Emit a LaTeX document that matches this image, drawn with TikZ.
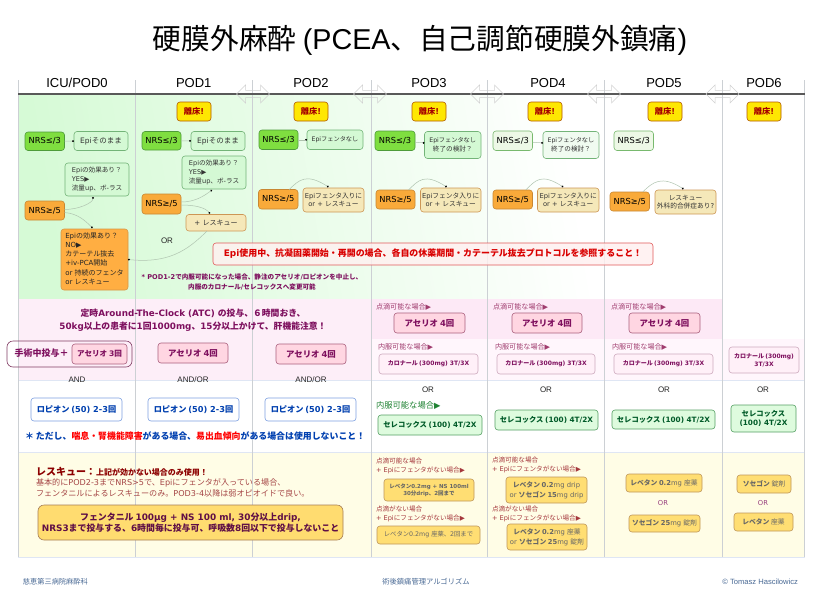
\documentclass[tikz,border=0pt]{standalone}
\usepackage{fontspec}
\usetikzlibrary{arrows.meta,shapes.arrows}
\setmainfont{DejaVu Sans}
\newfontfamily\latn{DejaVu Sans}
\newfontfamily\libf{Liberation Sans}
\newfontfamily\cjk{Noto Sans CJK JP}
\makeatletter
\def\setcjkrange#1#2{\@tempcnta=#1\relax\loop\ifnum\@tempcnta<#2\relax\XeTeXcharclass\@tempcnta=10\relax\advance\@tempcnta by 1\repeat}
\setcjkrange{"3000}{"30FF}
\setcjkrange{"4E00}{"9FFF}
\setcjkrange{"FF00}{"FFEF}
\makeatother
\XeTeXinterchartoks 0 10 = {\cjk}
\XeTeXinterchartoks 10 0 = {\latn}
\XeTeXinterchartoks 4095 10 = {\cjk}
\XeTeXinterchartoks 4095 0 = {\latn}
\XeTeXinterchartokenstate=1
\definecolor{gridc}{HTML}{CCD0D4}
\definecolor{hline}{HTML}{DFE6F4}
\definecolor{grn}{HTML}{D6FAD6}
\definecolor{pinkA}{HTML}{FDEEF8}
\definecolor{pinkB}{HTML}{FDE9F6}
\definecolor{pinkC}{HTML}{FFF6FC}
\definecolor{yel}{HTML}{FFFDE6}
\definecolor{purp}{HTML}{7E0F5E}
\definecolor{foot}{HTML}{4A6A95}
\newcommand\fs[2]{\fontsize{#1}{#2}\selectfont}
\tikzset{
  box/.style={draw,rounded corners=3pt,inner sep=0pt,outer sep=0pt,align=center,line width=.6pt},
  txt/.style={inner sep=0pt,outer sep=0pt,align=left},
  hdr/.style={txt,font=\fs{13}{15}\let\latn\libf,text=black},
  gate/.style={txt,font=\fs{8}{10}\let\latn\libf,text=black!85},
  rise/.style={box,fill=yellow!90!orange,draw=black!30!orange,font=\fs{8.2}{9}\bfseries,text=red!65!black},
  nrsg/.style={box,fill={rgb,255:red,127;green,222;blue,64},draw={rgb,255:red,78;green,155;blue,58},font=\fs{8.3}{10}},
  nrsp/.style={box,fill={rgb,255:red,237;green,248;blue,230},draw={rgb,255:red,120;green,185;blue,110},font=\fs{8.3}{10}},
  nrso/.style={box,fill={rgb,255:red,249;green,170;blue,58},draw={rgb,255:red,200;green,135;blue,50},font=\fs{8.3}{10}},
  epig/.style={box,fill={rgb,255:red,212;green,249;blue,212},draw={rgb,255:red,115;green,180;blue,120},font=\fs{6.6}{9.1},text=black!80},
  epip/.style={epig,fill={rgb,255:red,240;green,251;blue,240}},
  epiy/.style={box,fill={rgb,255:red,245;green,232;blue,185},draw={rgb,255:red,205;green,150;blue,85},font=\fs{6.7}{8.6},text=black!80},
  bigo/.style={box,fill={rgb,255:red,255;green,174;blue,66},draw={rgb,255:red,215;green,150;blue,70},font=\fs{7}{9.2},text=black!85},
  ace/.style={box,fill={rgb,255:red,255;green,214;blue,226},draw={rgb,255:red,170;green,95;blue,125},font=\fs{8.4}{9}\bfseries,text=purp},
  car/.style={box,fill={rgb,255:red,255;green,240;blue,248},draw={rgb,255:red,205;green,170;blue,190},font=\fs{6}{8.2}\bfseries,text=purp},
  rop/.style={box,fill=white,draw={rgb,255:red,125;green,160;blue,225},font=\fs{8.2}{9}\bfseries,text={rgb,255:red,0;green,64;blue,175}},
  cel/.style={box,fill={rgb,255:red,222;green,251;blue,222},draw={rgb,255:red,85;green,160;blue,100},font=\fs{7.3}{9.6}\bfseries,text={rgb,255:red,0;green,90;blue,40}},
  res/.style={box,fill={rgb,255:red,255;green,222;blue,115},draw={rgb,255:red,190;green,150;blue,90},font=\fs{6.3}{9},text=black!60},
  lab/.style={txt,font=\fs{7.1}{8},text={rgb,255:red,160;green,60;blue,110}},
  labr/.style={txt,font=\fs{6.6}{8.6},text={rgb,255:red,165;green,55;blue,60}},
  conn/.style={draw={rgb,255:red,175;green,195;blue,175},line width=.5pt,-{Circle[length=1.8pt,black]}},
  swap/.style={double arrow,draw=black!18,line width=.5pt,minimum height=33pt,minimum width=18pt,double arrow head extend=5pt,inner sep=3pt,fill=none},
  gridl/.style={draw=gridc,line width=.7pt},
  hrule/.style={draw=hline,line width=.8pt},
}
\newcommand\bx[7]{\node[#1,minimum width={(#5-#3)*1pt},minimum height={(#6-#4)*1pt}] (#2) at ({(#3+#5)/2},{(#4+#6)/2}) {#7};}
\begin{document}
\begin{tikzpicture}[x=1pt,y=-1pt]
\useasboundingbox (0,0) rectangle (820,590);
\fill[white] (0,0) rectangle (820,590);
% backgrounds
\shade[left color=grn,right color=white,shading angle=100] (18,94) rectangle (604,299);
\fill[pinkA] (18,299) rectangle (371,380);
\fill[pinkB] (371,299) rectangle (722,339);
\fill[pinkC] (371,339) rectangle (722,380);
\fill[pinkC] (722,339) rectangle (805,380);
\fill[yel] (18,453) rectangle (805,557);
\draw[hrule] (18,380) -- (805,380);
\draw[hrule] (18,452.5) -- (805,452.5);
\draw[hrule] (18,557) -- (805,557);
% grid
\foreach \gx in {18,135,252.5,371,487.5,604.5,722,804.5}{\draw[gridl] (\gx,80) -- (\gx,557);}
\draw[draw=black!65,line width=1.3pt] (18,94) -- (805,94);
\node[swap] (sw1) at (253,94) {};
\node[swap] (sw2) at (370,94) {};
\node[swap] (sw3) at (487,94) {};
\node[swap] (sw4) at (604,94) {};
\node[swap] (sw5) at (722.5,94) {};
% title and headers
\node[txt,font=\fs{28.7}{32}\let\latn\libf] (title) at (420,40) {硬膜外麻酔 (PCEA、自己調節硬膜外鎮痛)};
\node[hdr] (h0) at (77,83) {ICU/POD0};
\node[hdr] (h1) at (193.7,83) {POD1};
\node[hdr] (h2) at (311,83) {POD2};
\node[hdr] (h3) at (429,83) {POD3};
\node[hdr] (h4) at (548,83) {POD4};
\node[hdr] (h5) at (664,83) {POD5};
\node[hdr] (h6) at (764,83) {POD6};
% rise
\bx{rise}{r1}{177}{102}{211}{121}{離床!}
\bx{rise}{r2}{294}{102}{328}{121}{離床!}
\bx{rise}{r3}{412}{102}{446}{121}{離床!}
\bx{rise}{r4}{528}{102}{562}{121}{離床!}
\bx{rise}{r5}{648}{102}{682}{121}{離床!}
\bx{rise}{r6}{747}{102}{781}{121}{離床!}
% column 0
\bx{nrsg}{a0}{25}{132}{64.5}{150.5}{NRS≤/3}
\bx{epig}{b0}{74}{131.5}{128}{150.5}{\fs{7.5}{9}Epiそのまま}
\bx{epig}{c0}{65}{163}{129}{196}{\begin{tabular}{@{}l@{}}Epiの効果あり？\\YES▶\\流量up、ボ-ラス\end{tabular}}
\bx{nrso}{d0}{25}{201}{64.5}{220}{NRS≥/5}
\bx{bigo}{f0}{61}{229}{128}{290}{\begin{tabular}{@{}l@{}}Epiの効果あり？\\NO▶\\カテーテル抜去\\+iv-PCA開始\\or 持続のフェンタ\\or レスキュー\end{tabular}}
% column 1
\bx{nrsg}{a1}{142}{131.5}{181}{150}{NRS≤/3}
\bx{epig}{b1}{191}{131.5}{245}{150.5}{\fs{7.5}{9}Epiそのまま}
\bx{epig}{c1}{182}{156}{246}{189}{\begin{tabular}{@{}l@{}}Epiの効果あり？\\YES▶\\流量up、ボ-ラス\end{tabular}}
\bx{nrso}{d1}{142}{194}{181}{214}{NRS≥/5}
\bx{epiy}{e1}{186}{214.5}{246}{231}{\fs{7}{9}+ レスキュー}
\node[gate] (orl) at (167,240.5) {OR};
% column 2
\bx{nrsg}{a2}{259}{130}{298}{149.5}{NRS≤/3}
\bx{epig}{b2}{307}{130}{363}{149.5}{\fs{6.2}{8}Epiフェンタなし}
\bx{nrso}{d2}{258.5}{189.5}{298}{209}{NRS≥/5}
\bx{epiy}{e2}{303}{188}{364}{212}{Epiフェンタ入りに\\or + レスキュー}
% column 3
\bx{nrsg}{a3}{375}{131}{415}{150.5}{NRS≤/3}
\bx{epig}{b3}{424.5}{131.5}{481}{158.5}{\fs{6.2}{9}Epiフェンタなし\\終了の検討？}
\bx{nrso}{d3}{376}{190}{415}{209}{NRS≥/5}
\bx{epiy}{e3}{420.5}{188}{481}{212}{Epiフェンタ入りに\\or + レスキュー}
% column 4
\bx{nrsp}{a4}{493}{131}{532.5}{150.5}{NRS≤/3}
\bx{epip}{b4}{543}{131.5}{599}{158.5}{\fs{6.2}{9}Epiフェンタなし\\終了の検討？}
\bx{nrso}{d4}{493}{190}{532.5}{209}{NRS≥/5}
\bx{epiy}{e4}{537.5}{188}{599}{212}{Epiフェンタ入りに\\or + レスキュー}
% column 5
\bx{nrsp}{a5}{614}{131}{653.5}{150.5}{NRS≤/3}
\bx{nrso}{d5}{610}{192}{649.5}{211}{NRS≥/5}
\bx{epiy}{e5}{655}{190}{716}{214}{レスキュー\\外科的合併症あり?}
% connectors
\draw[conn] (a0) -- (b0);
\draw[conn] (a1) -- (b1);
\draw[conn] (a2) -- (b2);
\draw[conn] (a3) -- (b3);
\draw[conn] (a4) -- (b4);
\draw[conn] ([yshift=1pt]d0.east) .. controls +(14,0) and +(0,6) .. ([xshift=-4pt,yshift=-1pt]c0.south);
\draw[conn] ([yshift=-2pt]d0.east) .. controls +(14,1) and +(-6,-6) .. ([xshift=-2pt,yshift=1pt]f0.north);
\draw[conn] ([yshift=2pt]d1.east) .. controls +(14,0) and +(-8,6) .. ([xshift=-2pt,yshift=-1pt]c1.south);
\draw[conn] ([yshift=-1pt]d1.east) .. controls +(14,0) and +(-5,-6) .. ([xshift=-6pt,yshift=1pt]e1.north);
\draw[conn] ([xshift=-9pt]e1.south) .. controls +(-20,20) and +(40,4) .. (f0.east);
\draw[conn] ([xshift=11pt]d2.north) .. controls +(10,-10) and +(-22,-14) .. ([xshift=-5pt,yshift=1pt]e2.north);
\draw[conn] ([xshift=13pt]d3.north) .. controls +(10,-10) and +(-22,-14) .. ([xshift=-4pt,yshift=1pt]e3.north);
\draw[conn] ([xshift=13pt]d4.north) .. controls +(10,-10) and +(-22,-14) .. ([xshift=-5pt,yshift=1pt]e4.north);
\draw[conn] ([xshift=13pt]d5.north) .. controls +(10,-10) and +(-22,-14) .. ([xshift=-2pt,yshift=1pt]e5.north);
% banner
\bx{box,draw={rgb,255:red,225;green,90;blue,90},fill={rgb,255:red,255;green,240;blue,240},fill opacity=.82,text opacity=1,font=\fs{8.95}{11}\bfseries,text=red!85!black}{ban}{213}{243}{653}{265}{Epi使用中、抗凝固薬開始・再開の場合、各自の休薬期間・カテーテル抜去プロトコルを参照すること！}
\node[txt,font=\fs{6.6}{10}\bfseries,text=purp,align=center] (note1) at (252,282) {* POD1-2で内服可能になった場合、静注のアセリオ/ロピオンを中止し、\\内服のカロナール/セレコックスへ変更可能};
% pink section
\node[txt,align=center,font=\fs{8.8}{13.6}\bfseries,text=purp] (atc) at (193,320) {定時Around-The-Clock (ATC) の投与、６時間おき、\\50kg以上の患者に1回1000mg、15分以上かけて、肝機能注意！};
\bx{box,draw={rgb,255:red,130;green,60;blue,100},fill=none,rounded corners=6pt}{ope}{7}{341}{132}{367}{}
\node[txt,font=\fs{9}{11}\bfseries,text=purp] (opet) at (41.5,353.5) {手術中投与＋};
\bx{ace,font=\fs{7.6}{9}\bfseries}{ac0}{72}{344}{127}{364}{アセリオ 3回}
\bx{ace}{ac1}{158}{343}{228}{363}{アセリオ 4回}
\bx{ace}{ac2}{276}{344}{346}{364}{アセリオ 4回}
\node[lab] (dr3) at (376,307) [anchor=west] {点滴可能な場合▶};
\node[lab] (dr4) at (493,307) [anchor=west] {点滴可能な場合▶};
\node[lab] (dr5) at (611,307) [anchor=west] {点滴可能な場合▶};
\bx{ace}{ac3}{394}{313}{465}{333}{アセリオ 4回}
\bx{ace}{ac4}{512}{313}{582}{333}{アセリオ 4回}
\bx{ace}{ac5}{629}{313}{700}{333}{アセリオ 4回}
\node[lab] (or3) at (378,347) [anchor=west] {内服可能な場合▶};
\node[lab] (or4) at (495,347) [anchor=west] {内服可能な場合▶};
\node[lab] (or5) at (612,347) [anchor=west] {内服可能な場合▶};
\bx{car}{ca3}{379}{354}{478}{374}{カロナール (300mg) 3T/3X}
\bx{car}{ca4}{497}{354}{595}{374}{カロナール (300mg) 3T/3X}
\bx{car}{ca5}{614}{354}{713}{374}{カロナール (300mg) 3T/3X}
\bx{car}{ca6}{729}{347}{799}{373}{カロナール (300mg)\\3T/3X}
% gates
\node[gate] (g0) at (77,380) {AND};
\node[gate] (g1) at (193,380) {AND/OR};
\node[gate] (g2) at (311,380) {AND/OR};
\node[gate] (g3) at (428,390) {OR};
\node[gate] (g4) at (546,390) {OR};
\node[gate] (g5) at (664,390) {OR};
\node[gate] (g6) at (763,390) {OR};
% NSAIDs
\bx{rop}{ro0}{31}{398}{122}{421}{ロピオン (50) 2-3回}
\bx{rop}{ro1}{148}{398}{239}{421}{ロピオン (50) 2-3回}
\bx{rop}{ro2}{265}{398}{356}{421}{ロピオン (50) 2-3回}
\node[txt,font=\fs{8.9}{10}\bfseries,text={rgb,255:red,0;green,64;blue,175},anchor=west] (warn) at (25,436) {＊ ただし、\color{red}喘息・腎機能障害\color[rgb]{0,.25,.69}がある場合、\color{red}易出血傾向\color[rgb]{0,.25,.69}がある場合は使用しないこと！};
\node[txt,font=\fs{8.3}{10},text={rgb,255:red,30;green,130;blue,50},anchor=west] (or3g) at (376,406) {内服可能な場合▶};
\bx{cel}{ce3}{378}{415}{482}{435}{セレコックス (100) 4T/2X}
\bx{cel}{ce4}{495}{410}{598}{430}{セレコックス (100) 4T/2X}
\bx{cel}{ce5}{612}{410}{715}{429}{セレコックス (100) 4T/2X}
\bx{cel}{ce6}{731}{405}{796}{432}{セレコックス\\(100) 4T/2X}
% rescue
\node[txt,anchor=west,text=red!55!black,font=\fs{10}{11}\bfseries] (rt) at (36,472) {レスキュー：\fs{8}{11}上記が効かない場合のみ使用！};
\node[txt,anchor=north west,font=\fs{8.1}{11},text={rgb,255:red,165;green,70;blue,70}] (rb) at (36,478.5) {基本的にPOD2-3までNRS>5で、Epiにフェンタが入っている場合、\\フェンタニルによるレスキューのみ。POD3-4以降は弱オピオイドで良い。};
\bx{box,fill={rgb,255:red,255;green,220;blue,112},draw={rgb,255:red,165;green,125;blue,85},font=\fs{8.9}{11}\bfseries,text={rgb,255:red,95;green,15;blue,70},rounded corners=6pt}{fen}{38}{505}{343}{540}{フェンタニル 100µg + NS 100 ml, 30分以上drip,\\NRS3まで投与する、6時間毎に投与可、呼吸数8回以下で投与しないこと}
\node[labr,anchor=north west] (l3a) at (376,458) {点滴可能な場合\\+ Epiにフェンタがない場合▶};
\bx{res,font=\fs{5.5}{7.4}\bfseries}{re3a}{384}{479}{474}{501}{レベタン0.2mg + NS 100ml\\30分drip、2回まで}
\node[labr,anchor=north west] (l3b) at (376,506) {点滴がない場合\\+ Epiにフェンタがない場合▶};
\bx{res}{re3b}{377}{526}{480}{544}{レベタン0.2mg 座薬、2回まで}
\node[labr,anchor=north west] (l4a) at (492,457) {点滴可能な場合\\+ Epiにフェンタがない場合▶};
\bx{res,font=\fs{6.8}{10}}{re4a}{506}{477}{587}{503}{\bfseries レベタン 0.2\mdseries mg drip\\or \bfseries ソセゴン 15\mdseries mg drip}
\node[labr,anchor=north west] (l4b) at (492,506) {点滴がない場合\\+ Epiにフェンタがない場合▶};
\bx{res,font=\fs{6.8}{10}}{re4b}{507}{524}{587}{550}{\bfseries レベタン 0.2\mdseries mg 座薬\\or \bfseries ソセゴン 25\mdseries mg 錠剤}
\bx{res,font=\fs{6.8}{10}}{re5a}{626}{474}{702}{492}{\bfseries レベタン 0.2\mdseries mg 座薬}
\node[txt,font=\fs{6.8}{9},text=purp!80] (o5) at (663,503) {OR};
\bx{res,font=\fs{6.8}{10}}{re5b}{629}{515}{700}{532}{\bfseries ソセゴン 25\mdseries mg 錠剤}
\bx{res,font=\fs{6.8}{10}}{re6a}{737}{475}{791}{493}{\bfseries ソセゴン\mdseries{} 錠剤}
\node[txt,font=\fs{6.8}{9},text=purp!80] (o6) at (763,503) {OR};
\bx{res,font=\fs{6.8}{10}}{re6b}{734}{513}{793}{531}{\bfseries レベタン\mdseries{} 座薬}
% footer
\node[txt,font=\fs{7.2}{9},text=foot,anchor=west] (ft1) at (23,582) {慈恵第三病院麻酔科};
\node[txt,font=\fs{7.3}{9},text=foot,anchor=center] (ft2) at (426,582) {術後鎮痛管理アルゴリズム};
\node[txt,font=\fs{7.6}{9}\let\latn\libf,text=foot,anchor=east] (ft3) at (798,582) {© Tomasz Hascilowicz};
\end{tikzpicture}
\end{document}
